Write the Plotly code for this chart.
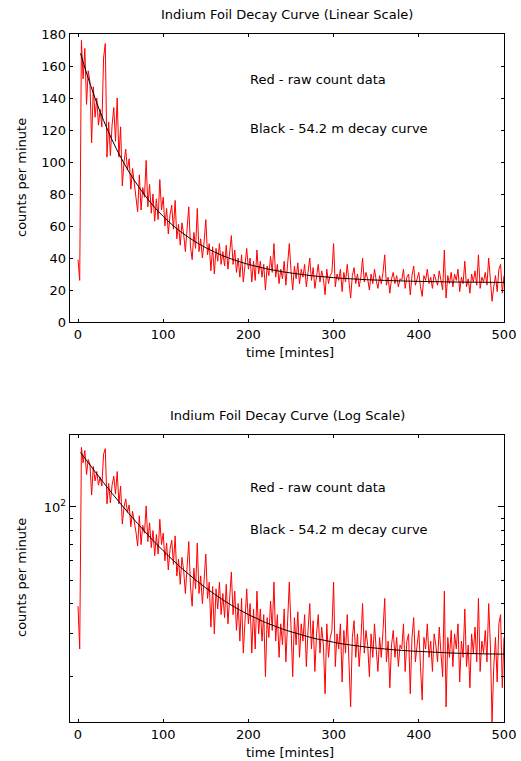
import plotly.graph_objects as go

# ---- data ----
count_times = list(range(0, 501, 2))  # minutes, sampled every 2 min
counts = [
    39, 26, 176, 152, 171,
    136, 157, 150, 112, 147,
    128, 140, 123, 133, 122,
    165, 174, 103, 125, 104,
    123, 134, 113, 140, 103,
    122, 85, 100, 108, 95,
    102, 83, 96, 88, 79,
    69, 92, 70, 84, 78,
    101, 72, 86, 68, 80,
    63, 77, 64, 89, 70,
    78, 60, 71, 55, 67,
    73, 58, 76, 52, 61,
    48, 62, 55, 44, 58,
    72, 47, 39, 56, 46,
    71, 44, 52, 40, 50,
    64, 42, 49, 32, 47,
    30, 46, 38, 49, 36,
    44, 35, 48, 33, 42,
    54, 36, 45, 31, 40,
    28, 42, 25, 37, 46,
    33, 40, 25, 38, 26,
    45, 30, 38, 28, 36,
    20, 35, 29, 41, 31,
    49, 28, 36, 24, 33,
    27, 38, 23, 34, 49,
    32, 20, 35, 27, 37,
    24, 33, 28, 36, 22,
    31, 40, 26, 34, 21,
    30, 36, 25, 32, 27,
    17, 33, 24, 29, 31,
    49, 22, 30, 26, 33,
    19, 31, 25, 36, 23,
    15, 29, 34, 24, 30,
    22, 28, 40, 25, 31,
    27, 20, 30, 24, 33,
    26, 21, 29, 24, 31,
    42, 23, 28, 18, 27,
    31, 24, 29, 22, 27,
    26, 33, 21, 28, 30,
    17, 29, 35, 23, 27,
    31, 22, 16, 29, 26,
    33, 24, 28, 21, 30,
    27, 23, 32, 25, 20,
    45, 15, 29, 24, 31,
    22, 30, 26, 33, 19,
    28, 24, 38, 22, 27,
    18, 30, 25, 32, 23,
    42, 21, 28, 25, 31,
    23, 40, 27, 13, 22,
    29, 19, 33, 36, 18,
    29,
]

decay_times = [3, 10, 20, 30, 40, 50, 60, 70, 80, 90, 100, 110, 120, 130, 140,
               150, 160, 170, 180, 190, 200, 210, 220, 230, 240, 250, 260, 270,
               280, 290, 300, 310, 320, 330, 340, 350, 360, 370, 380, 390, 400,
               410, 420, 430, 440, 450, 460, 470, 480, 490, 500]
decay_counts = [167.9, 155.6, 139.9, 126.0, 113.8, 103.1, 93.7, 85.4, 78.1, 71.6,
                66.0, 61.0, 56.6, 52.8, 49.4, 46.4, 43.8, 41.4, 39.4, 37.6,
                36.0, 34.7, 33.4, 32.4, 31.4, 30.6, 29.9, 29.2, 28.6, 28.2,
                27.7, 27.3, 27.0, 26.7, 26.4, 26.2, 26.0, 25.8, 25.65, 25.5,
                25.4, 25.3, 25.2, 25.1, 25.0, 24.95, 24.9, 24.85, 24.8, 24.78, 24.75]

x_ticks = [0, 100, 200, 300, 400, 500]
lin_y_ticks = [0, 20, 40, 60, 80, 100, 120, 140, 160, 180]
log_major = [100]
log_major_text = ["10<sup>2</sup>"]
log_minor = [20, 30, 40, 50, 60, 70, 80, 90]

titles = ["Indium Foil Decay Curve (Linear Scale)", "Indium Foil Decay Curve (Log Scale)"]
x_title = "time [mintes]"
y_title = "counts per minute"
note_red = "Red - raw count data"
note_black = "Black - 54.2 m decay curve"

assert len(counts) == len(count_times)

W, H = 521, 761
FONT = "DejaVu Sans, Liberation Sans, Arial, sans-serif"
FS = 13

fig = go.Figure()
for xa, ya in (("x", "y"), ("x2", "y2")):
    fig.add_trace(go.Scatter(x=count_times, y=counts, mode="lines",
                             line=dict(color="#ff0000", width=1),
                             xaxis=xa, yaxis=ya, showlegend=False, hoverinfo="skip"))
    fig.add_trace(go.Scatter(x=decay_times, y=decay_counts, mode="lines",
                             line=dict(color="#000000", width=1, shape="spline"),
                             xaxis=xa, yaxis=ya, showlegend=False, hoverinfo="skip"))

xdom = [70 / W, 504 / W]
top_dom = [(H - 322) / H, (H - 34) / H]
bot_dom = [(H - 722) / H, (H - 435) / H]

common = dict(showline=True, linecolor="black", linewidth=1.3, mirror="ticks",
              ticks="inside", tickcolor="black", showgrid=False, zeroline=False,
              tickfont=dict(family=FONT, size=FS, color="black"))

xcommon = dict(common, range=[-9.4, 500], tickvals=x_ticks, ticklen=3)

fig.update_layout(
    width=W, height=H,
    margin=dict(l=0, r=0, t=0, b=0, autoexpand=False),
    paper_bgcolor="white", plot_bgcolor="white",
    font=dict(family=FONT, size=FS, color="black"),
    xaxis=dict(xcommon, domain=xdom, anchor="y"),
    yaxis=dict(common, domain=top_dom, anchor="x", range=[0, 180],
               tickvals=lin_y_ticks, ticklen=3),
    xaxis2=dict(xcommon, domain=xdom, anchor="y2"),
    yaxis2=dict(common, domain=bot_dom, anchor="x2", type="log",
                range=[1.1139, 2.2967], tickvals=log_major, ticktext=log_major_text,
                ticklen=6,
                minor=dict(tickvals=log_minor, ticks="inside", ticklen=3,
                           tickcolor="black", showgrid=False)),
)


def px_x(px):
    return px / W


def px_y(py):
    return 1 - py / H


ann = []
ann.append(dict(text=titles[0], x=px_x(287), y=px_y(14)))
ann.append(dict(text=titles[1], x=px_x(287), y=px_y(415)))
ann.append(dict(text=x_title, x=px_x(290), y=px_y(352)))
ann.append(dict(text=x_title, x=px_x(290), y=px_y(752)))
ann.append(dict(text=y_title, x=px_x(21), y=px_y(178), textangle=-90))
ann.append(dict(text=y_title, x=px_x(21), y=px_y(578), textangle=-90))
for a in ann:
    a.update(xref="paper", yref="paper", showarrow=False, xanchor="center",
             yanchor="middle", font=dict(family=FONT, size=FS, color="black"))
for txt, py in ((note_red, 79), (note_black, 128), (note_red, 487), (note_black, 529)):
    ann.append(dict(text=txt, x=px_x(248), y=px_y(py), xref="paper", yref="paper",
                    showarrow=False, xanchor="left", yanchor="middle",
                    font=dict(family=FONT, size=FS, color="black")))
fig.update_layout(annotations=ann)

fig.write_html(
    "out.html",
    config={"displayModeBar": False, "staticPlot": True},
    post_script="document.body.style.margin='0';document.body.style.padding='0';"
                "document.body.style.overflow='hidden';",
)
